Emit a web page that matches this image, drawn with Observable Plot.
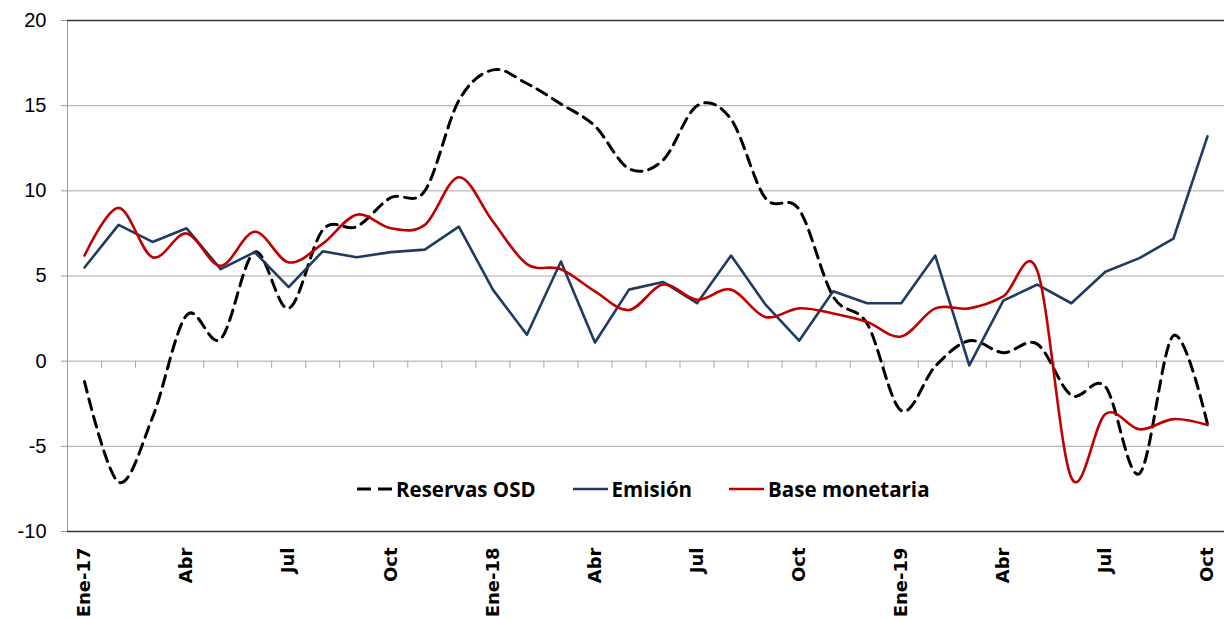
<!DOCTYPE html>
<html><head><meta charset="utf-8">
<script src="https://cdn.jsdelivr.net/npm/d3@7"></script>
<script src="https://cdn.jsdelivr.net/npm/@observablehq/plot@0.6"></script>
<style>
body{margin:0;background:#fff;}
#wrap{position:relative;width:1224px;height:620px;overflow:hidden;}
#legend{position:absolute;left:357px;top:475px;display:flex;align-items:center;font:bold 20.5px "Open Sans",sans-serif;color:#000;}
#legend .it{display:flex;align-items:center;margin-right:37px;}
#legend svg{margin-right:4px;}
</style></head><body><div id="wrap"></div>
<script>
// monthly data Ene-17 .. Oct-19
const reservas = [-1.2,-7.1,-3.3,2.7,1.3,6.4,3.1,7.7,7.9,9.6,10.0,15.3,17.1,16.3,15.1,13.8,11.3,11.8,15.0,14.2,9.6,8.9,3.8,2.2,-2.9,-0.3,1.2,0.5,1.0,-2.0,-1.5,-6.6,1.5,-3.7];
const emision  = [5.5,8.0,7.0,7.8,5.4,6.4,4.35,6.45,6.1,6.4,6.55,7.9,4.2,1.55,5.85,1.1,4.2,4.65,3.4,6.2,3.35,1.2,4.1,3.4,3.4,6.2,-0.25,3.55,4.5,3.4,5.25,6.05,7.2,13.2];
const base     = [6.2,9.0,6.1,7.5,5.6,7.6,5.8,6.9,8.6,7.8,8.0,10.8,8.2,5.7,5.4,4.1,3.0,4.5,3.6,4.2,2.6,3.1,2.8,2.3,1.45,3.1,3.1,3.8,5.3,-6.85,-3.1,-4.0,-3.4,-3.75];
const tickLabels = ["Ene-17","Abr","Jul","Oct","Ene-18","Abr","Jul","Oct","Ene-19","Abr","Jul","Oct"];
const tickIndex  = [0,3,6,9,12,15,18,21,24,27,30,33];
const yTicks = [-10,-5,0,5,10,15,20];
const seriesNames = ["Reservas OSD","Emisión","Base monetaria"];
const colors = ["#000000","#1f3b60","#c00000"];

const n = emision.length;
const boundaries = d3.range(n - 1).map(i => i + 0.5);

const chart = Plot.plot({
  width: 1224, height: 620,
  marginLeft: 67, marginRight: 0, marginTop: 20, marginBottom: 89,
  style: {background: "#fff", color: "#000"},
  x: {type: "linear", domain: [-0.5, n - 0.5], axis: null},
  y: {domain: [yTicks[0], yTicks[yTicks.length - 1]], axis: null},
  marks: [
    Plot.gridY(yTicks.slice(1, -1), {stroke: "#a6a6a6", strokeOpacity: 1}),
    Plot.frame({stroke: "#9a9a9a", insetRight: -4}),
    Plot.ruleY([yTicks[0], yTicks[yTicks.length - 1]], {stroke: "#3a3a3a", strokeWidth: 1.3}),
    Plot.ruleX(boundaries, {y1: 0, y2: -0.42, stroke: "#a6a6a6"}),
    Plot.axisY(yTicks, {tickSize: 6, tickPadding: 15, fontSize: 20, fontFamily: "Liberation Sans", stroke: "#9a9a9a", fill: "#000", tickFormat: d => String(d)}),
    Plot.text(tickIndex, {x: d => d, text: (d, i) => tickLabels[i], frameAnchor: "bottom", dy: 16, rotate: -90, textAnchor: "end", lineAnchor: "middle", fontWeight: "bold", fontSize: 18, fontFamily: "DejaVu Sans", fill: "#000"}),
    Plot.line(reservas, {x: (d, i) => i, y: d => d, curve: "cardinal", stroke: colors[0], strokeWidth: 3, strokeDasharray: "11,7"}),
    Plot.line(emision, {x: (d, i) => i, y: d => d, curve: "linear", stroke: colors[1], strokeWidth: 2.6}),
    Plot.line(base, {x: (d, i) => i, y: d => d, curve: "cardinal", stroke: colors[2], strokeWidth: 2.6})
  ]
});
const wrap = document.getElementById("wrap");
wrap.appendChild(chart);

// legend
const leg = document.createElement("div");
leg.id = "legend";
seriesNames.forEach((name, k) => {
  const it = document.createElement("div");
  it.className = "it";
  const dash = k === 0 ? 'stroke-dasharray="14,7"' : "";
  it.innerHTML = `<svg width="35" height="10"><line x1="0" x2="35" y1="5" y2="5" stroke="${colors[k]}" stroke-width="${k === 0 ? 3 : 2.6}" ${dash}/></svg><span>${name}</span>`;
  leg.appendChild(it);
});
wrap.appendChild(leg);
</script></body></html>
